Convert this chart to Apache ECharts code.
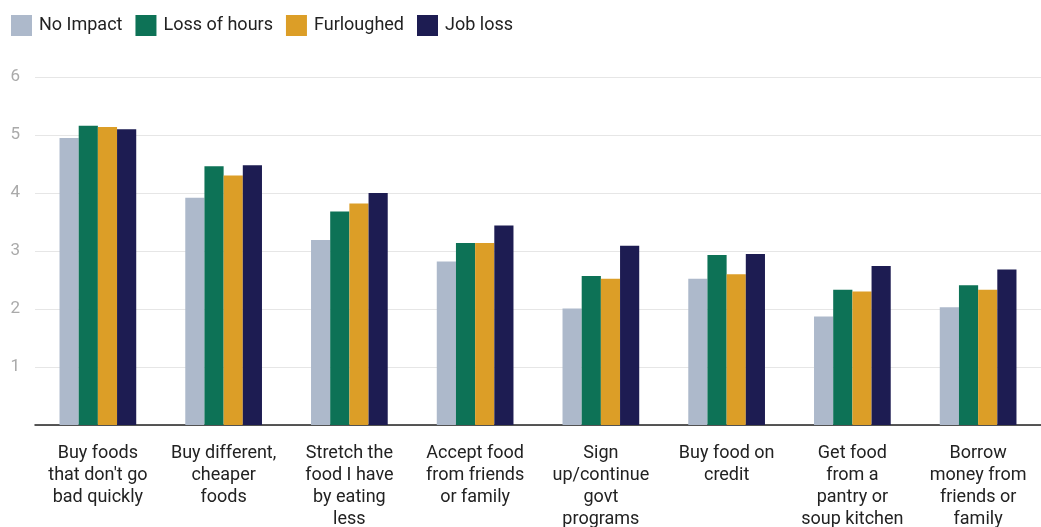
<!DOCTYPE html>
<html><head><meta charset="utf-8">
<script src="https://cdn.jsdelivr.net/npm/echarts@6/dist/echarts.min.js"></script>
<style>html,body{margin:0;padding:0;background:#fff}#c{width:1041px;height:527px}</style>
</head><body><div id="c"></div>
<script>
const categories = [
  "Buy foods\nthat don't go\nbad quickly",
  "Buy different,\ncheaper\nfoods",
  "Stretch the\nfood I have\nby eating\nless",
  "Accept food\nfrom friends\nor family",
  "Sign\nup/continue\ngovt\nprograms",
  "Buy food on\ncredit",
  "Get food\nfrom a\npantry or\nsoup kitchen",
  "Borrow\nmoney from\nfriends or\nfamily"
];
const noImpact   = [4.95, 3.92, 3.19, 2.82, 2.01, 2.52, 1.87, 2.03];
const lossHours  = [5.16, 4.46, 3.68, 3.14, 2.57, 2.93, 2.33, 2.41];
const furloughed = [5.14, 4.30, 3.82, 3.14, 2.52, 2.60, 2.30, 2.33];
const jobLoss    = [5.10, 4.48, 4.00, 3.44, 3.09, 2.95, 2.74, 2.68];
const seriesNames = ["No Impact", "Loss of hours", "Furloughed", "Job loss"];
const colors = ["#adb9cb", "#0d7256", "#dc9e27", "#1d1c52"];
const seriesData = [noImpact, lossHours, furloughed, jobLoss];

const chart = echarts.init(document.getElementById('c'), null, {renderer: 'canvas'});
chart.setOption({
  animation: false,
  textStyle: {fontFamily: 'Roboto'},
  legend: {
    left: 6, top: 10, itemWidth: 21, itemHeight: 21, itemGap: 13,
    icon: 'rect',
    textStyle: {fontSize: 18, color: '#222', fontFamily: 'Roboto', padding: [0,0,0,2]},
    data: seriesNames
  },
  grid: {left: 35, right: 0, top: 77, bottom: 102, containLabel: false, outerBoundsMode: 'none'},
  xAxis: {
    type: 'category', data: categories,
    axisLine: {lineStyle: {color: '#222', width: 1.5}},
    axisTick: {show: false},
    axisLabel: {fontSize: 18, color: '#222', lineHeight: 22, margin: 17, interval: 0, fontFamily: 'Roboto'}
  },
  yAxis: {
    type: 'value', min: 0, max: 6, interval: 1,
    axisLine: {show: false}, axisTick: {show: false},
    splitLine: {lineStyle: {color: '#e6e6e6', width: 1}},
    axisLabel: {fontSize: 17, color: '#aaa', margin: 15, fontFamily: 'Roboto',
      formatter: v => v === 0 ? '' : v}
  },
  series: seriesData.map((d, i) => ({
    name: seriesNames[i], type: 'bar', data: d,
    itemStyle: {color: colors[i]},
    barGap: '0%', barCategoryGap: '39%'
  }))
});
</script></body></html>
